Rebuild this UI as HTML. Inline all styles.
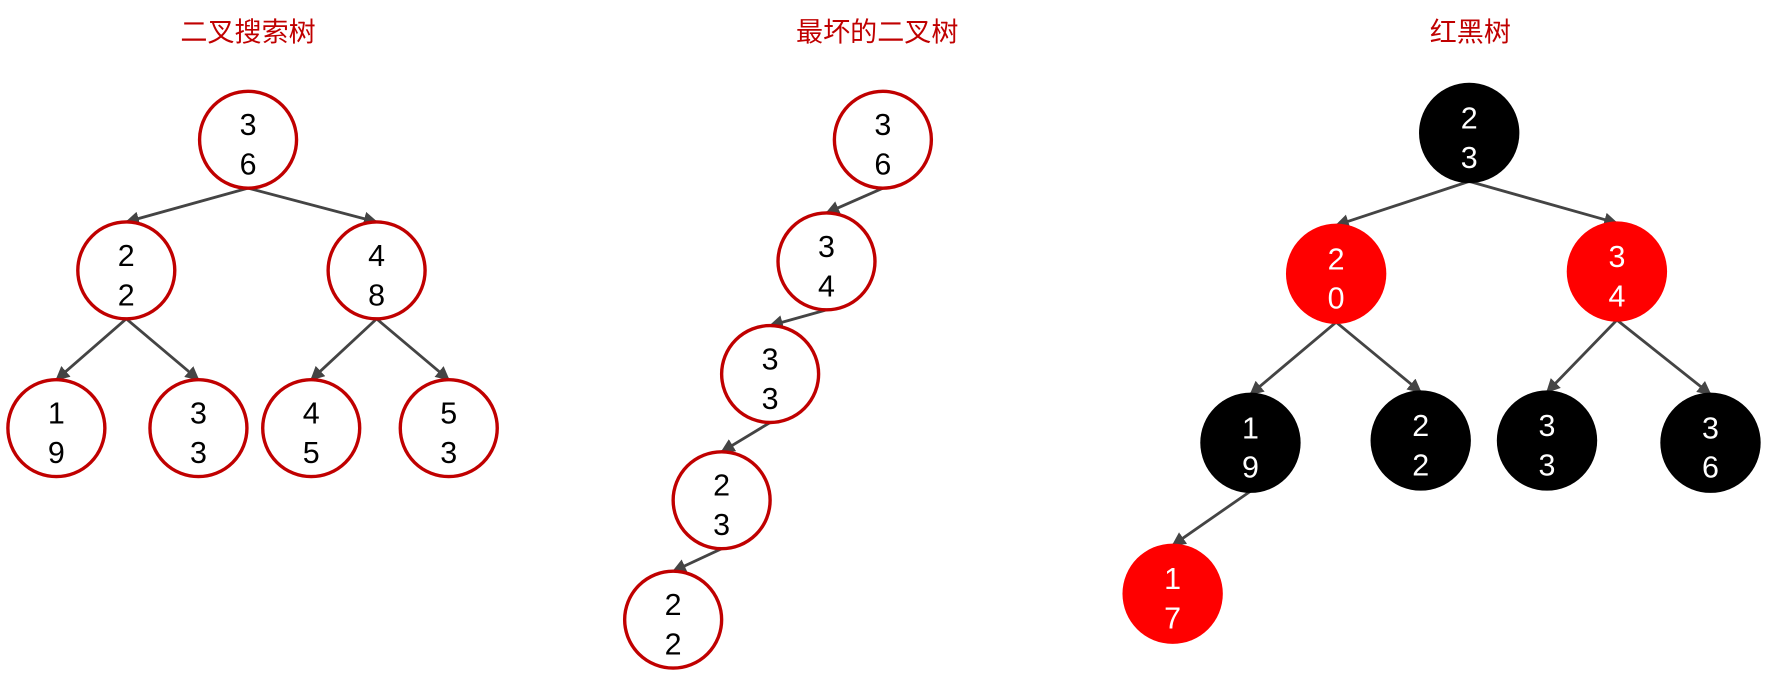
<!DOCTYPE html>
<html><head><meta charset="utf-8"><style>
html,body{margin:0;padding:0;background:#fff;}
svg{display:block;}
text{font-family:"Liberation Sans","Noto Sans CJK SC",sans-serif;}
</style></head><body>
<svg id="chart" width="1768" height="676" viewBox="0 0 1568 600" preserveAspectRatio="none" xmlns="http://www.w3.org/2000/svg">
<defs><marker id="arr" viewBox="0 0 10 10" refX="9" refY="5" markerWidth="5" markerHeight="5" orient="auto"><path d="M0,0 L10,5 L0,10 z" fill="#444"/></marker></defs>
<text x="220" y="37" text-anchor="middle" font-size="24" fill="#c00000">二叉搜索树</text>
<text x="778" y="37" text-anchor="middle" font-size="24" fill="#c00000">最坏的二叉树</text>
<text x="1304" y="37" text-anchor="middle" font-size="24" fill="#c00000">红黑树</text>
<g id="g"></g>
</svg>
<script>
const bstLabels=["36","22","48","19","33","45","53"];
const bstX=[220,112,334,50,176,276,398];
const bstY=[124,240,240,380,380,380,380];
const bstParent=[-1,0,0,1,1,2,2];
const worstLabels=["36","34","33","23","22"];
const worstX=[783,733,683,640,597];
const worstY=[124,232,332,444,550];
const worstParent=[-1,0,1,2,3];
const rbLabels=["23","20","34","19","22","33","36","17"];
const rbColors=["black","red","red","black","black","black","black","red"];
const rbX=[1303,1185,1434,1109,1260,1372,1517,1040];
const rbY=[118,243,241,393,391,391,393,527];
const rbParent=[-1,0,0,1,1,2,2,3];
const NS="http://www.w3.org/2000/svg";
const g=document.getElementById('g');
function tree(name,labels,xs,ys,parents,colors){
  const r=43;
  for(let i=0;i<labels.length;i++){
    const p=parents[i]; if(p<0) continue;
    const l=document.createElementNS(NS,'line');
    
    
    l.setAttribute('x1',xs[p]);l.setAttribute('y1',ys[p]+r);
    l.setAttribute('x2',xs[i]);l.setAttribute('y2',ys[i]-r);
    l.setAttribute('stroke','#444');l.setAttribute('stroke-width','2.5');
    l.setAttribute('marker-end','url(#arr)');
    g.appendChild(l);
  }
  for(let i=0;i<labels.length;i++){
    const c=document.createElementNS(NS,'circle');
    
    
    c.setAttribute('cx',xs[i]);c.setAttribute('cy',ys[i]);
    const col=colors?colors[i]:null;
    if(col){c.setAttribute('r',r+1.5);c.setAttribute('fill',col==='red'?'#ff0000':'#000');}
    else{c.setAttribute('r',r);c.setAttribute('fill','#fff');c.setAttribute('stroke','#c00000');c.setAttribute('stroke-width','3');}
    g.appendChild(c);
    const chars=labels[i].split('');
    chars.forEach((ch,k)=>{
      const t=document.createElementNS(NS,'text');
      
      
      t.setAttribute('x',xs[i]);t.setAttribute('y',ys[i]-4+k*35);
      t.setAttribute('text-anchor','middle');t.setAttribute('font-size','27');
      t.setAttribute('fill',col?'#fff':'#000');
      t.textContent=ch;g.appendChild(t);
    });
  }
}
tree('bst',bstLabels,bstX,bstY,bstParent,null);
tree('worst',worstLabels,worstX,worstY,worstParent,null);
tree('rb',rbLabels,rbX,rbY,rbParent,rbColors);
</script>
</body></html>
